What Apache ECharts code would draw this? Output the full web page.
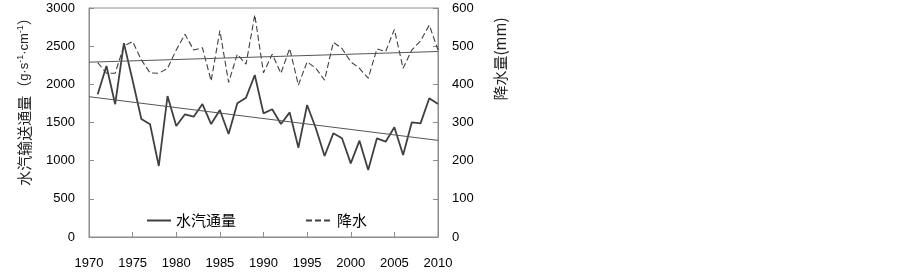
<!DOCTYPE html>
<html>
<head>
<meta charset="utf-8">
<script src="https://cdn.jsdelivr.net/npm/echarts@6/dist/echarts.min.js"></script>
<style>
  html, body { margin: 0; padding: 0; background: #fff; }
  #chart { width: 903px; height: 276px; }
</style>
</head>
<body>
<div id="chart"></div>
<script>
// 年份与两条序列
const years = [1971, 1972, 1973, 1974, 1975, 1976, 1977, 1978, 1979, 1980,
  1981, 1982, 1983, 1984, 1985, 1986, 1987, 1988, 1989, 1990,
  1991, 1992, 1993, 1994, 1995, 1996, 1997, 1998, 1999, 2000,
  2001, 2002, 2003, 2004, 2005, 2006, 2007, 2008, 2009, 2010];

// 水汽通量 (g·s-1·cm-1)
const flux = [1870, 2240, 1740, 2540, 2050, 1546, 1476, 930, 1847, 1454,
  1607, 1576, 1742, 1480, 1664, 1349, 1751, 1825, 2122, 1620,
  1673, 1480, 1633, 1170, 1729, 1424, 1061, 1358, 1293, 965,
  1262, 878, 1293, 1249, 1437, 1074, 1502, 1489, 1817, 1742];

// 降水 (mm)
const rain = [457, 429, 429, 501, 512, 464, 430, 429, 442, 490,
  531, 490, 496, 409, 541, 405, 479, 453, 582, 430,
  479, 429, 494, 398, 459, 442, 411, 510, 494, 459,
  442, 416, 493, 486, 544, 442, 490, 514, 555, 490];

// 线性趋势线端点
const trendYears = [1970, 2010];
const fluxTrend = [1838, 1266];
const rainTrend = [458, 486];

const xTicks = [1970, 1975, 1980, 1985, 1990, 1995, 2000, 2005, 2010];

const pair = (xs, ys) => xs.map((x, i) => [x, ys[i]]);

const chart = echarts.init(document.getElementById('chart'));
const numFont = { fontFamily: 'Liberation Sans', fontSize: 13, color: '#000', formatter: v => String(v) };
const cjk = 'Noto Sans CJK SC';
const lineColor = '#404040';
const axisGrey = '#8c8c8c';

const option = {
  animation: false,
  grid: {
    left: 89, right: 465, top: 8, bottom: 39,
    show: true, borderColor: axisGrey, borderWidth: 1
  },
  legend: [
    {
      data: ['水汽通量'], left: 141, top: 208, itemWidth: 24, itemGap: 4,
      itemStyle: { opacity: 0 },
      textStyle: { fontFamily: cjk, fontSize: 15, color: '#000' }
    },
    {
      data: ['降水'], left: 300, top: 208, itemWidth: 26,
      itemStyle: { opacity: 0 },
      textStyle: { fontFamily: cjk, fontSize: 15, color: '#000' }
    }
  ],
  xAxis: {
    type: 'value', min: xTicks[0], max: xTicks[xTicks.length - 1], interval: 5,
    axisLine: { lineStyle: { color: axisGrey } },
    axisTick: { inside: true, length: 5, lineStyle: { color: axisGrey } },
    splitLine: { show: false },
    axisLabel: Object.assign({ margin: 20 }, numFont)
  },
  yAxis: [
    {
      type: 'value', min: 0, max: 3000, interval: 500,
      axisLine: { show: true, lineStyle: { color: axisGrey } },
      axisTick: { show: true, inside: true, length: 5, lineStyle: { color: axisGrey } },
      splitLine: { show: false },
      axisLabel: Object.assign({ margin: 14 }, numFont)
    },
    {
      type: 'value', min: 0, max: 600, interval: 100, position: 'right',
      axisLine: { show: true, lineStyle: { color: axisGrey } },
      axisTick: { show: true, inside: true, length: 5, lineStyle: { color: axisGrey } },
      splitLine: { show: false },
      axisLabel: Object.assign({ margin: 14 }, numFont)
    }
  ],
  graphic: [
    {
      type: 'text', x: 24, y: 98, rotation: Math.PI / 2,
      style: {
        text: '{c|水汽输送通量（}{u|g·s}{s|-1}{u|·cm}{s|-1}{c|）}',
        align: 'center', verticalAlign: 'middle',
        rich: {
          c: { fontFamily: cjk, fontSize: 15, fill: '#222' },
          u: { fontFamily: 'Liberation Sans', fontSize: 13, fill: '#222' },
          s: { fontFamily: 'Liberation Sans', fontSize: 9, fill: '#222', verticalAlign: 'top', padding: [0, 0, 6, 0] }
        }
      }
    },
    {
      type: 'text', x: 500, y: 59, rotation: Math.PI / 2,
      style: {
        text: '降水量(mm)', font: '15px "Noto Sans CJK SC"',
        fill: '#222', align: 'center', verticalAlign: 'middle'
      }
    }
  ],
  series: [
    {
      name: '水汽通量', type: 'line', data: pair(years, flux),
      symbol: 'none', lineStyle: { color: lineColor, width: 1.8 },
      itemStyle: { color: lineColor }
    },
    {
      name: '降水', type: 'line', yAxisIndex: 1, data: pair(years, rain),
      symbol: 'none', lineStyle: { color: lineColor, width: 1.1, type: [6, 3] },
      itemStyle: { color: lineColor }
    },
    {
      name: '水汽通量趋势', type: 'line', data: pair(trendYears, fluxTrend),
      symbol: 'none', lineStyle: { color: '#555', width: 1 }
    },
    {
      name: '降水趋势', type: 'line', yAxisIndex: 1, data: pair(trendYears, rainTrend),
      symbol: 'none', lineStyle: { color: '#555', width: 1 }
    }
  ]
};

chart.setOption(option);
</script>
</body>
</html>
